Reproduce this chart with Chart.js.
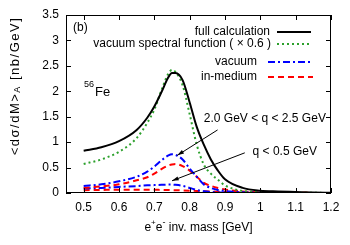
<!DOCTYPE html>
<html>
<head>
<meta charset="utf-8">
<script src="https://cdn.jsdelivr.net/npm/chart.js@4/dist/chart.umd.min.js"></script>
<style>
html, body { margin: 0; padding: 0; background: #fff; }
</style>
</head>
<body>
<canvas id="chart_mass" width="350" height="245"></canvas>
<script>
// e+e- invariant mass [GeV]
const mass_list = [0.50, 0.55, 0.60, 0.65, 0.68, 0.70, 0.72, 0.74, 0.75, 0.76, 0.78, 0.80, 0.82, 0.84, 0.86, 0.88, 0.90, 0.95, 1.00, 1.05, 1.10, 1.15, 1.20]

const full_calc = [0.83, 0.90, 1.02, 1.24, 1.48, 1.70, 1.98, 2.28, 2.36, 2.36, 2.22, 1.78, 1.30, 0.95, 0.66, 0.44, 0.27, 0.10, 0.045, 0.03, 0.02, 0.01, 0.005]
const vacuum_spectral = [0.57, 0.66, 0.81, 1.08, 1.38, 1.64, 2.02, 2.35, 2.42, 2.38, 2.12, 1.55, 0.95, 0.56, 0.38, 0.26, 0.15, 0.04, 0.02, 0.01, 0.006, 0.003, 0.002]
const vacuum_high_q = [0.14, 0.17, 0.23, 0.32, 0.42, 0.52, 0.64, 0.74, 0.76, 0.75, 0.66, 0.48, 0.32, 0.17, 0.10, 0.06, 0.04, 0.015, 0.006, 0.003, 0.002, 0.001, 0.001]
const medium_high_q = [0.10, 0.13, 0.17, 0.25, 0.31, 0.38, 0.47, 0.54, 0.56, 0.57, 0.53, 0.44, 0.32, 0.20, 0.14, 0.10, 0.07, 0.03, 0.012, 0.006, 0.004, 0.002, 0.001]
const vacuum_low_q = [0.09, 0.10, 0.12, 0.135, 0.15, 0.155, 0.16, 0.165, 0.165, 0.16, 0.14, 0.10, 0.06, 0.035, 0.02, 0.012, 0.008, 0.003, 0.001, 0.001, 0.001, 0.001, 0.001]
const medium_low_q = [0.055, 0.06, 0.065, 0.065, 0.065, 0.065, 0.06, 0.058, 0.056, 0.055, 0.05, 0.045, 0.04, 0.035, 0.03, 0.025, 0.02, 0.012, 0.006, 0.004, 0.003, 0.002, 0.001]

const x_ticks = [0.5, 0.6, 0.7, 0.8, 0.9, 1.0, 1.1, 1.2]
const y_ticks = [0, 0.5, 1, 1.5, 2, 2.5, 3, 3.5]

const FONT = "'Liberation Sans', Arial, Helvetica, sans-serif"

function to_points(values) {
    return mass_list.map((m, i) => ({ x: m, y: values[i] }))
}

function series(label, values, color, dash, width) {
    return {
        label: label,
        data: to_points(values),
        borderColor: color,
        borderDash: dash,
        borderWidth: width,
        pointRadius: 0,
        fill: false,
        cubicInterpolationMode: 'monotone'
    }
}

// legend rows: dataset index, text right edge, line start, line end, y
const legend_rows = [
    { ds: 0, tx: 270, l0: 277, l1: 311, y: 32 },
    { ds: 1, tx: 271, l0: 277, l1: 311, y: 44 },
    { ds: 2, tx: 257, l0: 268, l1: 313, y: 62 },
    { ds: 3, tx: 257, l0: 268, l1: 313, y: 77 }
]

// annotations in data units
const arrow_list = [
    { from: [0.879, 1.24], to: [0.765, 0.74] },
    { from: [0.956, 0.79], to: [0.75, 0.24] }
]
const label_list = [
    { text: '2.0 GeV < q < 2.5 GeV', at: [0.84, 1.47] },
    { text: 'q < 0.5 GeV', at: [0.978, 0.81] }
]

function draw_arrow(ctx, x0, y0, x1, y1) {
    const ang = Math.atan2(y1 - y0, x1 - x0)
    const len = 7
    ctx.beginPath()
    ctx.moveTo(x0, y0)
    ctx.lineTo(x1, y1)
    ctx.stroke()
    ctx.beginPath()
    ctx.moveTo(x1, y1)
    ctx.lineTo(x1 - len * Math.cos(ang - 0.3), y1 - len * Math.sin(ang - 0.3))
    ctx.lineTo(x1 - len * Math.cos(ang + 0.3), y1 - len * Math.sin(ang + 0.3))
    ctx.closePath()
    ctx.fill()
}

function draw_rich(ctx, parts, cx, cy, rot, spacing) {
    ctx.save()
    ctx.letterSpacing = spacing + 'px'
    let total = 0
    parts.forEach((p) => {
        ctx.font = p[1] + 'px ' + FONT
        total += ctx.measureText(p[0]).width
    })
    ctx.translate(cx, cy)
    ctx.rotate(rot)
    ctx.textAlign = 'left'
    ctx.textBaseline = 'middle'
    ctx.fillStyle = '#000'
    let x = -total / 2
    parts.forEach((p) => {
        ctx.font = p[1] + 'px ' + FONT
        ctx.fillText(p[0], x, p[2])
        x += ctx.measureText(p[0]).width
    })
    ctx.restore()
}

const decor_plugin = {
    id: 'decor_plugin',
    afterDatasetsDraw(chart) {
        const ctx = chart.ctx
        const area = chart.chartArea
        const xs = chart.scales.x
        const ys = chart.scales.y
        ctx.save()

        // frame with inward ticks on all sides
        ctx.strokeStyle = '#000'
        ctx.lineWidth = 1
        ctx.beginPath()
        x_ticks.forEach((v) => {
            const px = Math.round(xs.getPixelForValue(v)) + 0.5
            ctx.moveTo(px, area.bottom)
            ctx.lineTo(px, area.bottom - 5)
            ctx.moveTo(px, area.top)
            ctx.lineTo(px, area.top + 5)
        })
        y_ticks.forEach((v) => {
            const py = Math.round(ys.getPixelForValue(v)) + 0.5
            ctx.moveTo(area.left, py)
            ctx.lineTo(area.left + 5, py)
            ctx.moveTo(area.right, py)
            ctx.lineTo(area.right - 5, py)
        })
        ctx.stroke()
        ctx.strokeRect(area.left + 0.5, area.top + 0.5, area.width - 1, area.height - 1)

        // legend
        ctx.font = '12px ' + FONT
        ctx.textBaseline = 'middle'
        ctx.textAlign = 'right'
        legend_rows.forEach((row) => {
            const ds = chart.data.datasets[row.ds]
            ctx.fillStyle = '#000'
            ctx.fillText(ds.label, row.tx, row.y)
            ctx.save()
            ctx.strokeStyle = ds.borderColor
            ctx.lineWidth = ds.borderWidth
            ctx.setLineDash(ds.borderDash)
            ctx.beginPath()
            ctx.moveTo(row.l0, row.y)
            ctx.lineTo(row.l1, row.y)
            ctx.stroke()
            ctx.restore()
        })

        // arrows and labels
        ctx.strokeStyle = '#000'
        ctx.fillStyle = '#000'
        ctx.lineWidth = 1
        arrow_list.forEach((a) => {
            draw_arrow(ctx,
                xs.getPixelForValue(a.from[0]), ys.getPixelForValue(a.from[1]),
                xs.getPixelForValue(a.to[0]), ys.getPixelForValue(a.to[1]))
        })
        ctx.textAlign = 'left'
        label_list.forEach((l) => {
            ctx.fillText(l.text, xs.getPixelForValue(l.at[0]), ys.getPixelForValue(l.at[1]))
        })

        // panel mark and nucleus
        ctx.fillText('(b)', area.left + 7, area.top + 13)
        ctx.font = '9px ' + FONT
        ctx.fillText('56', area.left + 18, area.top + 70)
        const w56 = ctx.measureText('56').width
        ctx.font = '13px ' + FONT
        ctx.fillText('Fe', area.left + 18 + w56 + 1, area.top + 77)

        // x title with superscripts
        const xt = [['e', 12, 0], ['+', 8, -5], ['e', 12, 0], ['-', 9, -5], [' inv. mass [GeV]', 12, 0]]
        draw_rich(ctx, xt, (area.left + area.right) / 2, 228, 0, 0)

        // y title with subscript
        const yt = [['<d\u03c3/dM>', 13, 0], ['A', 9, 3], [' [nb/GeV]', 13, 0]]
        draw_rich(ctx, yt, 15, 86, -Math.PI / 2, 1.5)

        ctx.restore()
    }
}

function fmt_tick(value) {
    return String(Math.round(value * 100) / 100)
}

const chart_mass = new Chart(document.getElementById('chart_mass'), {
    type: 'line',
    data: {
        datasets: [
            series('full calculation', full_calc, '#000000', [], 2),
            series('vacuum spectral function ( \u00d7 0.6 )', vacuum_spectral, '#2ca02c', [2, 3], 2),
            series('vacuum', vacuum_high_q, '#0000ff', [7, 3, 2, 3], 2),
            series('in-medium', medium_high_q, '#ff0000', [6, 4], 2),
            series('vacuum q<0.5', vacuum_low_q, '#0000ff', [7, 3, 2, 3], 2),
            series('in-medium q<0.5', medium_low_q, '#ff0000', [6, 4], 2)
        ]
    },
    options: {
        responsive: false,
        animation: false,
        layout: { padding: { top: 15, right: 19, left: 0, bottom: 0 } },
        scales: {
            x: {
                type: 'linear',
                min: 0.45,
                max: 1.2,
                afterBuildTicks: (scale) => { scale.ticks = x_ticks.map((v) => ({ value: v })) },
                afterFit: (scale) => { scale.height = 52 },
                grid: { display: false, drawTicks: false },
                border: { display: false },
                ticks: {
                    autoSkip: false,
                    maxRotation: 0,
                    padding: 7,
                    color: '#000',
                    font: { family: FONT, size: 12 },
                    callback: fmt_tick
                }
            },
            y: {
                type: 'linear',
                min: 0,
                max: 3.5,
                afterBuildTicks: (scale) => { scale.ticks = y_ticks.map((v) => ({ value: v })) },
                afterFit: (scale) => { scale.width = 66 },
                grid: { display: false, drawTicks: false },
                border: { display: false },
                ticks: {
                    padding: 7,
                    color: '#000',
                    font: { family: FONT, size: 12 },
                    callback: fmt_tick
                }
            }
        },
        plugins: {
            legend: { display: false },
            tooltip: { enabled: false }
        }
    },
    plugins: [decor_plugin]
})
</script>
</body>
</html>
